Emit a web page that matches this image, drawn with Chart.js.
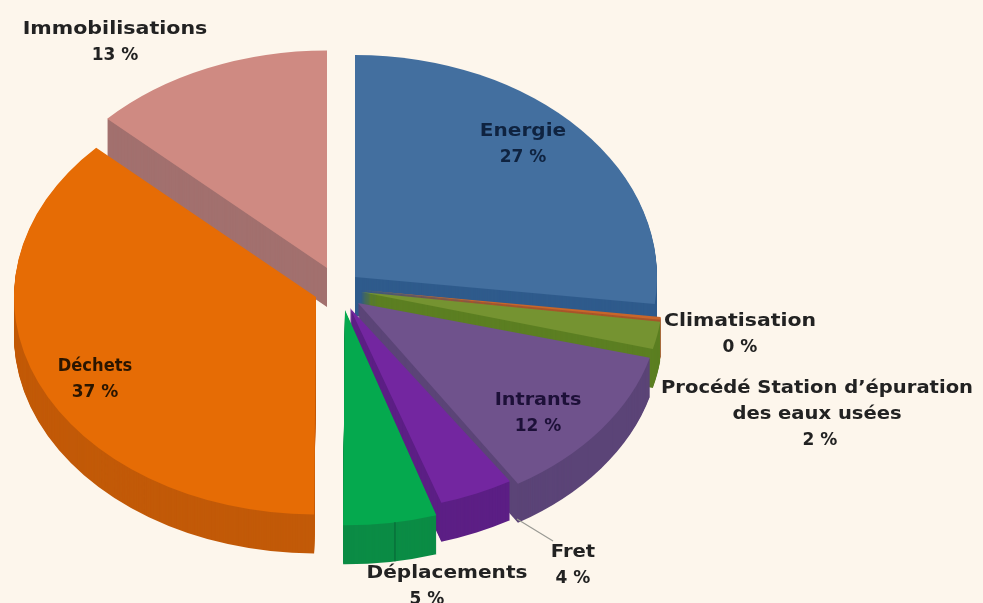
<!DOCTYPE html>
<html>
<head>
<meta charset="utf-8">
<style>
  html, body { margin: 0; padding: 0; background: #fdf6ec; }
  canvas { display: block; }
</style>
<script src="https://cdn.jsdelivr.net/npm/chart.js@4"></script>
</head>
<body>
<canvas id="pie" width="983" height="603"></canvas>
<script>
const categories = ['Energie', 'Climatisation', 'Procédé Station d’épuration', 'Intrants', 'Fret', 'Déplacements', 'Déchets', 'Immobilisations'];
const values = [27, 0.2, 2, 12, 4, 5, 37, 13];

const topColors = ['#436f9f', '#c8662a', '#759331', '#6f528c', '#7326a0', '#05a94e', '#e66c05', '#cf8a82'];
const wallColors = ['#2f5b8c', '#a8552a', '#5c7f22', '#5b4477', '#5c1f85', '#0b8c45', '#c25a08', '#a2706e'];
const explodeX = [15, 21, 21, 18, 10, 5, -24, -13];
const explodeY = [-12, 1, 3, 14, 19, 21, 8, -21];
const squash = [1, 1, 1, 0.96, 0.92, 0.97, 0.98, 0.98];
const drawOrder = [7, 0, 1, 2, 3, 4, 5, 6];

// label text lines and where they sit, same order as categories
const labelLines = [['Energie'], ['Climatisation'], ['Procédé Station d’épuration', 'des eaux usées'], ['Intrants'], ['Fret'], ['Déplacements'], ['Déchets'], ['Immobilisations']];
const labelPos = [[523, 132], [740, 322], [817, 389], [538, 401], [573, 553], [447, 574], [95, 367], [115, 30]];
const pctShift = [0, 0, 3, 0, 0, -20, 0, 0];
const labelStretch = [1.18, 1.2, 1.15, 1.13, 1.15, 1.18, 0.96, 1.21];
const labelColor = ['#0f2340', '#222', '#222', '#1d1038', '#222', '#222', '#2a1500', '#222'];

const centerX = 340, centerY = 289, radiusX = 302, radiusY = 222, depth = 39;

function paintArc(ctx, arc, i, drop, color) {
  const saved = arc.options;
  arc.options = { ...saved, backgroundColor: color, borderWidth: 0 };
  ctx.save();
  ctx.translate(centerX + explodeX[i], centerY + explodeY[i] + drop);
  ctx.scale(radiusX / arc.outerRadius, radiusY * squash[i] / arc.outerRadius);
  ctx.translate(-arc.x, -arc.y);
  arc.draw(ctx);
  ctx.restore();
  arc.options = saved;
}

const tiltedPie = {
  id: 'tiltedPie',
  beforeDatasetsDraw(chart) {
    const ctx = chart.ctx;
    const arcs = chart.getDatasetMeta(0).data;
    drawOrder.forEach(i => {
      for (let d = depth; d > 0; d--) paintArc(ctx, arcs[i], i, d, wallColors[i]);
      paintArc(ctx, arcs[i], i, 0, topColors[i]);
    });

    // seam on the outer wall of Déplacements
    const seam = arcs[5].startAngle + (arcs[5].endAngle - arcs[5].startAngle) * 0.45;
    const seamX = centerX + explodeX[5] + Math.cos(seam) * radiusX;
    const seamY = centerY + explodeY[5] + Math.sin(seam) * radiusY * squash[5];
    ctx.strokeStyle = '#08703a';
    ctx.lineWidth = 1.5;
    ctx.beginPath();
    ctx.moveTo(seamX, seamY);
    ctx.lineTo(seamX, seamY + depth);
    ctx.stroke();
    return false;
  },
  afterDraw(chart) {
    const ctx = chart.ctx;
    ctx.save();
    // leader line for Fret
    ctx.strokeStyle = '#9a9a94';
    ctx.lineWidth = 1.2;
    ctx.beginPath();
    ctx.moveTo(517, 519);
    ctx.lineTo(553, 541);
    ctx.stroke();

    ctx.font = 'bold 17px "DejaVu Sans"';
    ctx.textAlign = 'center';
    ctx.textBaseline = 'middle';
    categories.forEach((name, i) => {
      const lines = [...labelLines[i], Math.round(values[i]) + ' %'];
      ctx.fillStyle = labelColor[i];
      lines.forEach((line, n) => {
        const isPct = n === lines.length - 1;
        ctx.save();
        ctx.translate(labelPos[i][0] + (isPct ? pctShift[i] : 0), labelPos[i][1] + n * 26);
        ctx.scale(isPct ? 1 : labelStretch[i], 1);
        ctx.fillText(line, 0, 0);
        ctx.restore();
      });
    });
    ctx.restore();
  }
};

new Chart(document.getElementById('pie'), {
  type: 'pie',
  plugins: [tiltedPie],
  data: {
    labels: categories,
    datasets: [{ data: values, backgroundColor: topColors, borderWidth: 0 }]
  },
  options: {
    responsive: false,
    animation: false,
    plugins: { legend: { display: false }, tooltip: { enabled: false } }
  }
});
</script>
</body>
</html>
